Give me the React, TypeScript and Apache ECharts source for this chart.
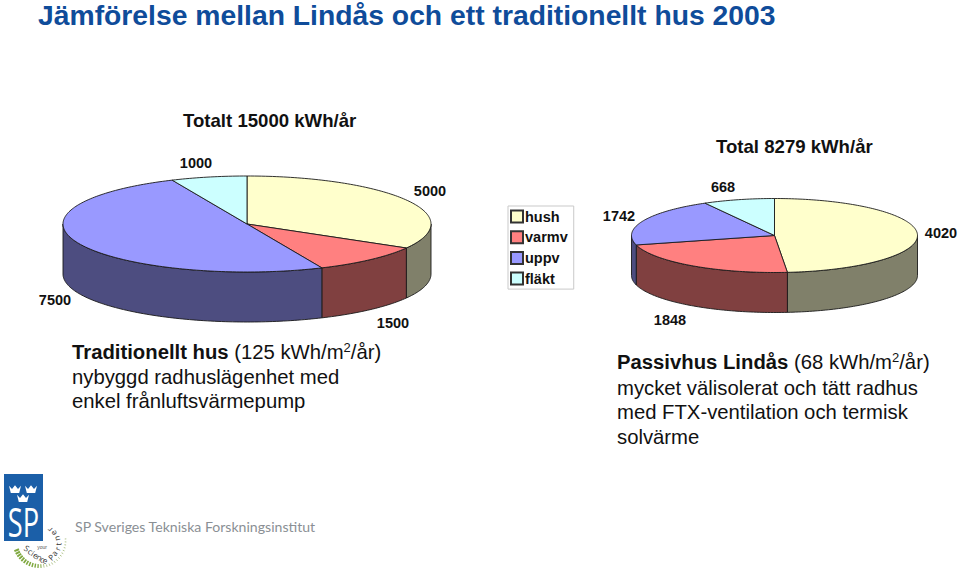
import React, { useEffect, useRef } from "react";
import * as echarts from "echarts";

const categories = ["hush", "varmv", "uppv", "fläkt"];
const traditionalValues = [5000, 1500, 7500, 1000];
const passiveValues = [4020, 1848, 1742, 668];
const topColors = ["#FFFFCC", "#FF8080", "#9999FF", "#CCFFFF"];
const sideColors = ["#80806A", "#804040", "#4D4D80", "#668080"];
const pieTitles = ["Totalt 15000 kWh/år", "Total 8279 kWh/år"];
const captionA = ["nybyggd radhuslägenhet med", "enkel frånluftsvärmepump"];
const captionB = ["mycket välisolerat och tätt radhus", "med FTX-ventilation och termisk", "solvärme"];

const pies = [
  { values: traditionalValues, cx: 247, cy: 224, rx: 184, ry: 48, depth: 50,
    labels: [[430, 191], [393, 323], [55, 300], [196, 163]] },
  { values: passiveValues, cx: 774.5, cy: 235.5, rx: 143, ry: 37, depth: 40,
    labels: [[941, 233], [670, 320], [619, 216], [723, 187]] },
];

// Hand-placed glyphs of the logo's curved wordmark: [char, x, y, rotation in degrees, counter-clockwise]
const logoGlyphs: [string, number, number, number][] = [
  ["S", 27, 548, -32], ["c", 30.5, 551, -35], ["i", 33, 553, -35], ["e", 36, 555, -33],
  ["n", 39.5, 557, -30], ["c", 42.5, 559, -28], ["e", 45.5, 560, -25],
  ["P", 51, 557, 45], ["a", 54, 553, 55], ["r", 57, 548.5, 68], ["t", 58, 544, 85],
  ["n", 56.5, 538.5, 105], ["e", 53, 533.5, 122], ["r", 49.5, 530, 135],
];

const rimPoint = (p: any, a: number) => [p.cx + Math.sin(a) * p.rx, p.cy - Math.cos(a) * p.ry];

function arcPoints(p: any, a0: number, a1: number) {
  const n = Math.max(2, Math.ceil(Math.abs(a1 - a0) / 0.02));
  const pts: number[][] = [];
  for (let i = 0; i <= n; i++) pts.push(rimPoint(p, a0 + ((a1 - a0) * i) / n));
  return pts;
}

const FONT = '"Liberation Sans", Arial, sans-serif';
const edge = { stroke: "#1a1a1a", lineWidth: 0.9, lineJoin: "round" };

function categorySeries(catIndex: number) {
  return {
    type: "custom",
    name: categories[catIndex],
    coordinateSystem: "none",
    silent: true,
    itemStyle: { color: topColors[catIndex], borderColor: "#333", borderWidth: 1 },
    data: [[pies[0].values[catIndex]], [pies[1].values[catIndex]]],
    renderItem: (params: any, api: any) => {
      const p = pies[params.dataIndex];
      const total = p.values.reduce((s, v) => s + v, 0);
      const before = p.values.slice(0, catIndex).reduce((s, v) => s + v, 0);
      const value = api.value(0) as number;
      const a0 = (before / total) * Math.PI * 2;
      const a1 = ((before + value) / total) * Math.PI * 2;
      const children: any[] = [];
      const f0 = Math.max(a0, Math.PI / 2);
      const f1 = Math.min(a1, (Math.PI * 3) / 2);
      if (f1 > f0) {
        const rim = arcPoints(p, f0, f1);
        const lower = rim.map(([x, y]) => [x, y + p.depth]).reverse();
        children.push({
          type: "polygon",
          shape: { points: rim.concat(lower) },
          style: { fill: sideColors[catIndex], ...edge },
        });
      }
      children.push({
        type: "polygon",
        shape: { points: [[p.cx, p.cy], ...arcPoints(p, a0, a1)] },
        style: { fill: topColors[catIndex], ...edge },
      });
      const [lx, ly] = p.labels[catIndex];
      children.push({
        type: "text",
        style: {
          x: lx, y: ly, text: String(value), fill: "#111",
          font: `bold 14.5px ${FONT}`, align: "center", verticalAlign: "middle",
        },
      });
      return { type: "group", children };
    },
  };
}

function caption(x: number, y: number, bold: string, rest: string, sup: string, tail: string) {
  return {
    type: "text", x, y,
    style: {
      text: `{b|${bold}}{n| ${rest}}{s|${sup}}{n|${tail}}`,
      rich: {
        b: { font: `bold 20.3px ${FONT}`, fill: "#111", height: 24 },
        n: { font: `20.3px ${FONT}`, fill: "#111", height: 24 },
        s: { font: `13px ${FONT}`, fill: "#111", verticalAlign: "top", height: 15 },
      },
      verticalAlign: "middle",
    },
  };
}

const plain = (x: number, y: number, text: string, font: string, fill = "#111", extra: any = {}) => ({
  type: "text", x, y, style: { text, font, fill, verticalAlign: "middle", ...extra },
});

function crown(cx: number, cy: number, s: number) {
  const pts = [[-1, -0.7], [-0.5, -0.15], [0, -0.8], [0.5, -0.15], [1, -0.7], [0.7, 0.5], [-0.7, 0.5]];
  return {
    type: "polygon",
    shape: { points: pts.map(([x, y]) => [cx + x * s, cy + y * s]) },
    style: { fill: "#fff" },
  };
}

function logoElements() {
  const els: any[] = [
    { type: "rect", shape: { x: 4, y: 474, width: 39, height: 67 }, style: { fill: "#1B5FA8" } },
    crown(15, 490, 6), crown(31, 490, 6), crown(23, 499, 6),
    {
      type: "text", x: 23.5, y: 521, scaleX: 0.68,
      style: { text: "SP", font: `40px "Open Sans", ${FONT}`, fill: "#fff", align: "center", verticalAlign: "middle" },
    },
    plain(75, 526, "SP Sveriges Tekniska Forskningsinstitut", `14.1px Lato, sans-serif`, "#8a8f94"),
    plain(42, 547, "your", `5px ${FONT}`, "#555", { align: "center" }),
  ];
  const cx = 39.4, cy = 541, r = 27;
  for (let deg = 248; deg >= 80; deg -= 6.5) {
    const a = (deg * Math.PI) / 180;
    const t = (248 - deg) / 168;
    const len = t < 0.5 ? 5 - t * 3 : 3.5 - t * 2;
    const wid = t < 0.4 ? 2.1 - t * 2 : 1;
    const ux = Math.sin(a), uy = -Math.cos(a);
    els.push({
      type: "line",
      shape: {
        x1: cx + ux * r, y1: cy + uy * r,
        x2: cx + ux * (r - len), y2: cy + uy * (r - len),
      },
      style: { stroke: t > 0.45 ? "#b5c792" : "#7fa83f", lineWidth: wid },
    });
  }
  logoGlyphs.forEach(([ch, x, y, rot]) => {
    els.push({
      type: "text", x, y, rotation: (rot * Math.PI) / 180,
      style: { text: ch, font: `8px "Open Sans", ${FONT}`, fill: "#333", align: "center", verticalAlign: "middle" },
    });
  });
  return els;
}

export default function App() {
  const ref = useRef<HTMLDivElement>(null);
  useEffect(() => {
    const chart = echarts.init(ref.current!, undefined, { renderer: "svg" });
    chart.setOption({
      animation: false,
      backgroundColor: "#fff",
      legend: {
        show: true,
        orient: "vertical",
        left: 508, top: 206,
        padding: [3, 6, 3, 2],
        itemWidth: 12, itemHeight: 12, itemGap: 5.7,
        borderColor: "#c9c9c9", borderWidth: 1,
        selectedMode: false,
        icon: "rect",
        textStyle: { fontFamily: FONT, fontWeight: "bold", fontSize: 14.5, color: "#111", padding: [0, 0, 0, -3] },
        data: categories.map((name) => ({ name, icon: "rect" })),
      },
      series: categories.map((_, i) => categorySeries(i)),
      graphic: [
        plain(38, 15, "Jämförelse mellan Lindås och ett traditionellt hus 2003", `bold 28.3px ${FONT}`, "#0F4C9A"),
        plain(183, 120, pieTitles[0], `bold 18.6px ${FONT}`),
        plain(716, 146, pieTitles[1], `bold 18.6px ${FONT}`),
        caption(72, 352, "Traditionellt hus", "(125 kWh/m", "2", "/år)"),
        ...captionA.map((t, i) => plain(72, 377 + i * 24, t, `20.3px ${FONT}`)),
        caption(617, 362, "Passivhus Lindås", "(68 kWh/m", "2", "/år)"),
        ...captionB.map((t, i) => plain(617, 388 + i * 24.3, t, `20.3px ${FONT}`)),
        ...logoElements(),
      ],
    });
    return () => chart.dispose();
  }, []);
  return (
    <div
      ref={ref}
      style={{ width: 960, height: 574, position: "fixed", left: 0, top: 0 }}
    />
  );
}
